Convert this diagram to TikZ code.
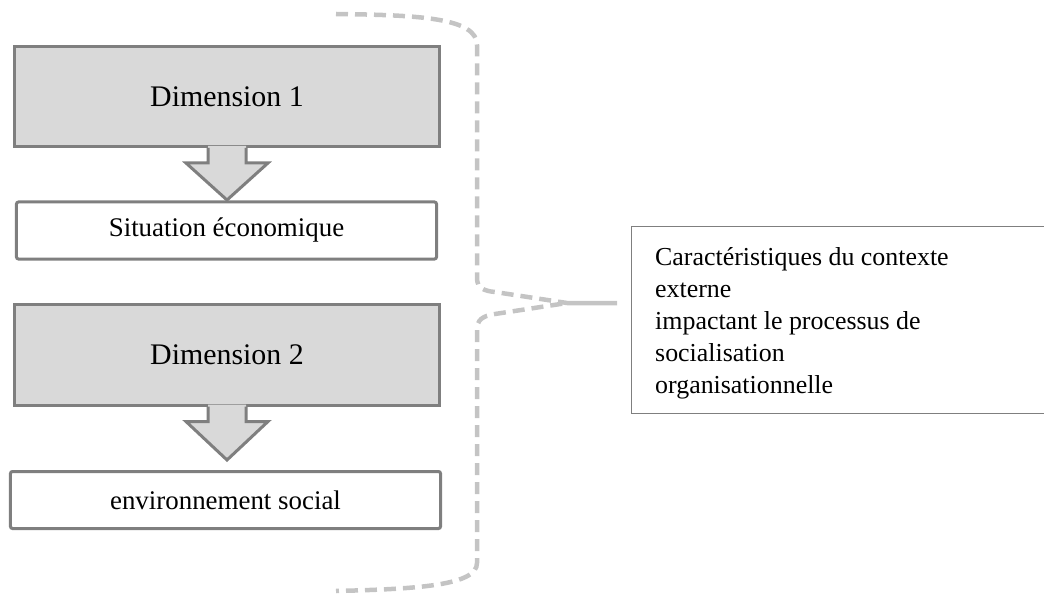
\documentclass[tikz,border=0pt]{standalone}
\usepackage{fontspec}
\setmainfont{Liberation Serif}
\usetikzlibrary{calc}
\definecolor{boxgray}{HTML}{D9D9D9}
\definecolor{edgegray}{HTML}{7F7F7F}
\definecolor{bracegray}{HTML}{C4C4C4}
\tikzset{
  dimbox/.style={draw=edgegray, line width=3bp, fill=boxgray, minimum width=425bp, minimum height=100bp, inner sep=0pt, font=\fontsize{30}{36}\selectfont},
  itembox/.style={draw=edgegray, line width=3bp, fill=white, rounded corners=2bp, minimum height=57bp, inner sep=0pt, font=\fontsize{27}{32}\selectfont},
  fatfill/.style={fill=boxgray},
  fatedge/.style={draw=edgegray, line width=3bp, line join=miter},
  bracestyle/.style={draw=bracegray, line width=4.5bp, dash pattern=on 12bp off 7bp, line cap=butt},
  ctxbox/.style={draw=edgegray, line width=1.5bp, fill=white, minimum width=430bp, minimum height=187bp, inner sep=0pt, anchor=north west},
  ctxtext/.style={align=left, inner sep=0pt, anchor=north west, font=\fontsize{26}{32}\selectfont}
}
\newcommand\fatarrow[2]{%
  \path[fatfill] ($(#1.south)+(-19,-2)$) -- ($(#1.south)+(-19,15)$) -- ($(#1.south)+(-41,15)$) -- (#2)
     -- ($(#1.south)+(41,15)$) -- ($(#1.south)+(19,15)$) -- ($(#1.south)+(19,-2)$) -- cycle;
  \path[fatedge] ($(#1.south)+(-19,0)$) -- ($(#1.south)+(-19,15)$) -- ($(#1.south)+(-41,15)$) -- (#2)
     -- ($(#1.south)+(41,15)$) -- ($(#1.south)+(19,15)$) -- ($(#1.south)+(19,0)$);
}
\begin{document}
\begin{tikzpicture}[x=1bp, y=-1bp]
\useasboundingbox (0,0) rectangle (1044,594);

% brace
\coordinate (btop) at (336,14);
\coordinate (btip) at (617,303);
\coordinate (bbot) at (336,591);
\path[bracestyle] (btop) .. controls (420,15) and (477,18) .. (477,45) -- (477,278)
  .. controls (477,288) and (484,291) .. (495,292) -- (567,303) -- (btip)
  -- (567,303) -- (495,314) .. controls (482,316) and (477,320) .. (477,330)
  -- (477,563) .. controls (477,585) and (420,589) .. (bbot);

% left column
\node[dimbox] (d1) at (227,96.5) {Dimension 1};
\node[itembox, minimum width=420bp] (s1) at (226.5,230.5) {Situation économique};
\node[dimbox] (d2) at (227,355) {Dimension 2};
\node[itembox, minimum width=430bp] (s2) at (225.5,500) {environnement social};

\coordinate (t1) at (227,200);
\coordinate (t2) at (227,460);
\fatarrow{d1}{t1}
\fatarrow{d2}{t2}

% right box
\node[ctxbox] (ctx) at (630.75,225.75) {};
\node[ctxtext] (ctxt) at (655,247.3) {Caractéristiques du contexte\\externe\\impactant le processus de\\socialisation\\organisationnelle};
\end{tikzpicture}
\end{document}
